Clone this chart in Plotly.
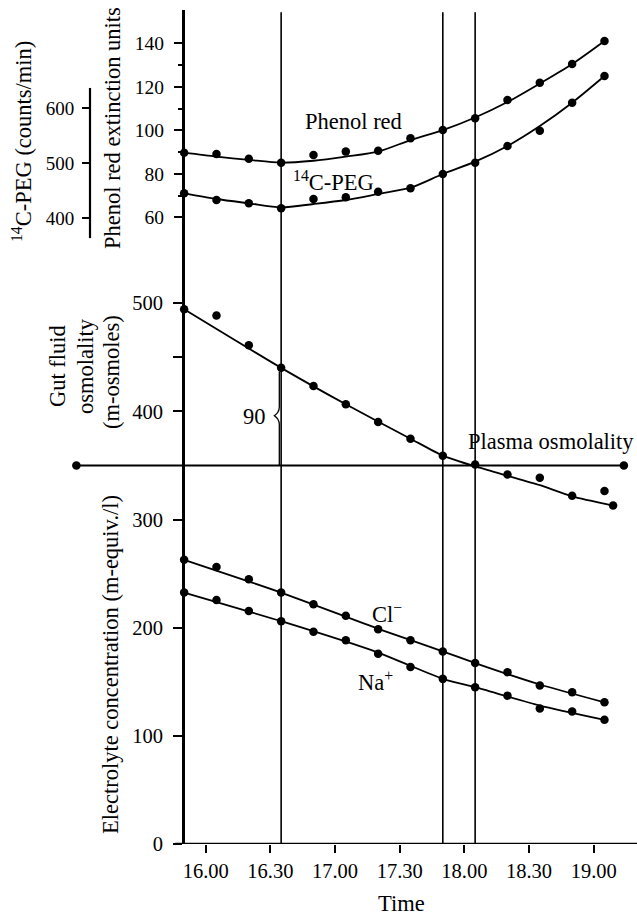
import plotly.graph_objects as go

# ---------------- data ----------------
sample_times = ["15:50", "16:05", "16:20", "16:35", "16:50", "17:05", "17:20",
                "17:35", "17:50", "18:05", "18:20", "18:35", "18:50", "19:05"]

phenol_points = [89.7, 89.1, 86.9, 85.1, 88.6, 90.2, 90.6, 96.3, 100.1, 105.5, 113.9, 121.9, 130.5, 141.1]
phenol_curve = [89.7, 87.9, 86.4, 85.1, 86.0, 87.9, 90.2, 95.5, 100.1, 105.9, 113.0, 121.5, 130.5, 141.1]

peg_points = [445.5, 433.3, 427.3, 418.2, 435.1, 438.2, 448.4, 454.5, 480.5, 501.1, 531.5, 559.3, 610.2, 658.7]
peg_curve = [445.5, 435.1, 427.3, 420.0, 426.0, 433.3, 444.2, 455.6, 480.5, 502.9, 531.5, 567.8, 610.2, 658.7]

osm_times = sample_times + ["19:09"]
osm_points = [494.5, 488.7, 461.2, 440.3, 423.6, 406.6, 390.3, 374.8, 359.1, 350.9, 341.6, 338.7, 322.1, 326.5, 313.0]
osm_curve_times = ["15:50", "16:35", "17:05", "17:35", "17:50", "18:05", "18:20", "18:35", "18:50", "19:09"]
osm_curve = [494.5, 440.3, 406.6, 374.8, 359.1, 349.1, 340.5, 331.8, 321.5, 313.0]

plasma_times = ["15:00", "19:14"]
plasma_osm = [350, 350]

cl_values = [262.8, 256.1, 244.9, 232.5, 221.6, 211.1, 198.6, 188.4, 178.1, 167.3, 158.9, 146.5, 140.3, 131.0]
na_values = [232.5, 225.6, 215.4, 206.0, 196.2, 188.4, 176.0, 163.6, 152.7, 145.0, 137.2, 125.4, 122.6, 114.8]
electro_curve_times = ["15:50", "16:35", "17:20", "17:50", "18:05", "18:35", "19:05"]
cl_curve = [262.8, 232.5, 199.0, 178.1, 167.3, 147.5, 131.0]
na_curve = [232.5, 206.0, 177.0, 152.7, 145.0, 128.0, 114.8]

marker_lines = ["16:35", "17:50", "18:05"]

x_tick_times = ["16:00", "16:30", "17:00", "17:30", "18:00", "18:30", "19:00"]
x_tick_text = ["16.00", "16.30", "17.00", "17.30", "18.00", "18.30", "19.00"]
main_tick_vals = [0, 100, 200, 300, 400, 450, 500]
main_tick_text = ["0", "100", "200", "300", "400", "", "500"]
phenol_tick_vals = [60, 80, 100, 120, 140]
phenol_minor_vals = [70, 90, 110, 130]
peg_tick_vals = [400, 500, 600]


def mins(s):
    h, m = s.split(":")
    return int(h) * 60 + int(m)


# ---------------- geometry ----------------
W, H = 637, 915
TOP_PX, BOT_PX = 10, 844          # plot area top / bottom in pixels
FONT = "Liberation Serif"


def px_range(v_a, py_a, v_b, py_b):
    """axis range so that value v_a sits at pixel py_a and v_b at py_b"""
    k = (py_a - py_b) / (v_b - v_a)   # px per unit
    lo = v_a - (BOT_PX - py_a) / k
    hi = v_a + (py_a - TOP_PX) / k
    return [lo, hi]


main_range = px_range(0, 844, 500, 303.3)
phenol_range = px_range(60, 217.3, 140, 43.3)
peg_range = px_range(400, 218.3, 600, 108.3)

# x: 16:00 at 205.7px, 19:00 at 593.7px
kx = (593.7 - 205.7) / 180.0
x_range = [960 - 205.7 / kx, 960 + (W - 205.7) / kx]
axis_x_paper = 183 / W


def P(px, py):
    return px / W, 1 - py / H


fig = go.Figure()

line_style = dict(color="black", width=1.8)
mk = dict(color="black", size=8.5)

st = [mins(t) for t in sample_times]
ect = [mins(t) for t in electro_curve_times]

# phenol red
fig.add_trace(go.Scatter(x=st, y=phenol_curve, yaxis="y2", mode="lines",
                         line=dict(shape="spline", smoothing=0.8, **line_style)))
fig.add_trace(go.Scatter(x=st, y=phenol_points, yaxis="y2", mode="markers", marker=mk))
# 14C-PEG
fig.add_trace(go.Scatter(x=st, y=peg_curve, yaxis="y3", mode="lines",
                         line=dict(shape="spline", smoothing=0.8, **line_style)))
fig.add_trace(go.Scatter(x=st, y=peg_points, yaxis="y3", mode="markers", marker=mk))
# gut fluid osmolality
fig.add_trace(go.Scatter(x=[mins(t) for t in osm_curve_times], y=osm_curve, mode="lines",
                         line=dict(shape="spline", smoothing=0.6, **line_style)))
fig.add_trace(go.Scatter(x=[mins(t) for t in osm_times], y=osm_points, mode="markers", marker=mk))
# plasma osmolality
fig.add_trace(go.Scatter(x=[mins(t) for t in plasma_times], y=plasma_osm, mode="lines+markers",
                         line=dict(color="black", width=2.2), marker=mk, cliponaxis=False))
# electrolytes
fig.add_trace(go.Scatter(x=ect, y=cl_curve, mode="lines",
                         line=dict(shape="spline", smoothing=0.6, **line_style)))
fig.add_trace(go.Scatter(x=st, y=cl_values, mode="markers", marker=mk))
fig.add_trace(go.Scatter(x=ect, y=na_curve, mode="lines",
                         line=dict(shape="spline", smoothing=0.6, **line_style)))
fig.add_trace(go.Scatter(x=st, y=na_values, mode="markers", marker=mk))

shapes = []
for t in marker_lines:
    shapes.append(dict(type="line", xref="x", yref="y", x0=mins(t), x1=mins(t),
                       y0=0, y1=main_range[1] - 2, line=dict(color="black", width=1.6)))
# bottom axis line
shapes.append(dict(type="line", xref="paper", yref="y", x0=175 / W, x1=1, y0=0, y1=0,
                   line=dict(color="black", width=2.5)))
# 14C-PEG axis line (short)
shapes.append(dict(type="line", xref="paper", yref="y3", x0=90 / W, x1=90 / W,
                   y0=364, y1=637, line=dict(color="black", width=2.2)))
# brace marking the 90 m-osmole difference
bx = mins("16:35") - 0.85
nx = bx - 2.3
shapes.append(dict(type="path", xref="x", yref="y",
                   path=f"M {bx},350 L {bx},388 Q {bx},393 {nx},396 Q {bx},399 {bx},404 L {bx},437",
                   line=dict(color="black", width=1.3)))

ann = []


def add_text(text, px, py, size=22.5, angle=0, xanchor="center"):
    x, y = P(px, py)
    ann.append(dict(text=text, x=x, y=y, xref="paper", yref="paper", showarrow=False,
                    textangle=angle, xanchor=xanchor, yanchor="middle",
                    font=dict(family=FONT, size=size, color="black")))


add_text("<sup>14</sup>C-PEG (counts/min)", 22, 142, angle=-90)
add_text("Phenol red extinction units", 112, 128, angle=-90)
add_text("Gut fluid", 57, 366, angle=-90)
add_text("osmolality", 85, 366, angle=-90)
add_text("(m-osmoles)", 111, 372, angle=-90)
add_text("Electrolyte concentration (m-equiv./l)", 110, 665, angle=-90)
add_text("Time", 401, 903)
add_text("Phenol red", 353, 122)
add_text("<sup>14</sup>C-PEG", 333, 181)
add_text("Plasma osmolality", 551, 441)
add_text("Cl<sup>−</sup>", 387, 613)
add_text("Na<sup>+</sup>", 375, 681)
add_text("90", 254, 416)

tick_font = dict(family=FONT, size=20.5, color="black")
fig.update_layout(
    template="none",
    width=W, height=H,
    margin=dict(l=0, r=0, t=0, b=0),
    paper_bgcolor="white", plot_bgcolor="white",
    showlegend=False,
    font=dict(family=FONT, color="black"),
    xaxis=dict(range=x_range, domain=[0, 1], showgrid=False, zeroline=False, showline=False,
               tickmode="array", tickvals=[mins(t) for t in x_tick_times], ticktext=x_tick_text,
               ticks="outside", ticklen=8, tickwidth=2, tickcolor="black",
               tickfont=tick_font, automargin=False),
    yaxis=dict(range=main_range, domain=[1 - BOT_PX / H, 1 - TOP_PX / H],
               anchor="free", position=axis_x_paper, side="left",
               showgrid=False, zeroline=False, showline=True, linewidth=3, linecolor="black",
               tickmode="array", tickvals=main_tick_vals, ticktext=main_tick_text,
               ticks="outside", ticklen=9, tickwidth=2, tickcolor="black",
               ticklabelstandoff=6, tickfont=tick_font, automargin=False),
    yaxis2=dict(range=phenol_range, overlaying="y", anchor="free", position=axis_x_paper,
                side="left", showgrid=False, zeroline=False, showline=False,
                tickmode="array", tickvals=phenol_tick_vals,
                ticks="outside", ticklen=9, tickwidth=2, tickcolor="black",
                minor=dict(tickvals=phenol_minor_vals, ticks="outside", ticklen=5,
                           tickwidth=1.5, tickcolor="black", showgrid=False),
                ticklabelstandoff=6, tickfont=dict(family=FONT, size=19.5, color="black"),
                automargin=False),
    yaxis3=dict(range=peg_range, overlaying="y", anchor="free", position=90 / W,
                side="left", showgrid=False, zeroline=False, showline=False,
                tickmode="array", tickvals=peg_tick_vals,
                ticks="outside", ticklen=8, tickwidth=2, tickcolor="black",
                ticklabelstandoff=4, tickfont=dict(family=FONT, size=19, color="black"),
                automargin=False),
    shapes=shapes,
    annotations=ann,
)

fig.write_html("out.html")
